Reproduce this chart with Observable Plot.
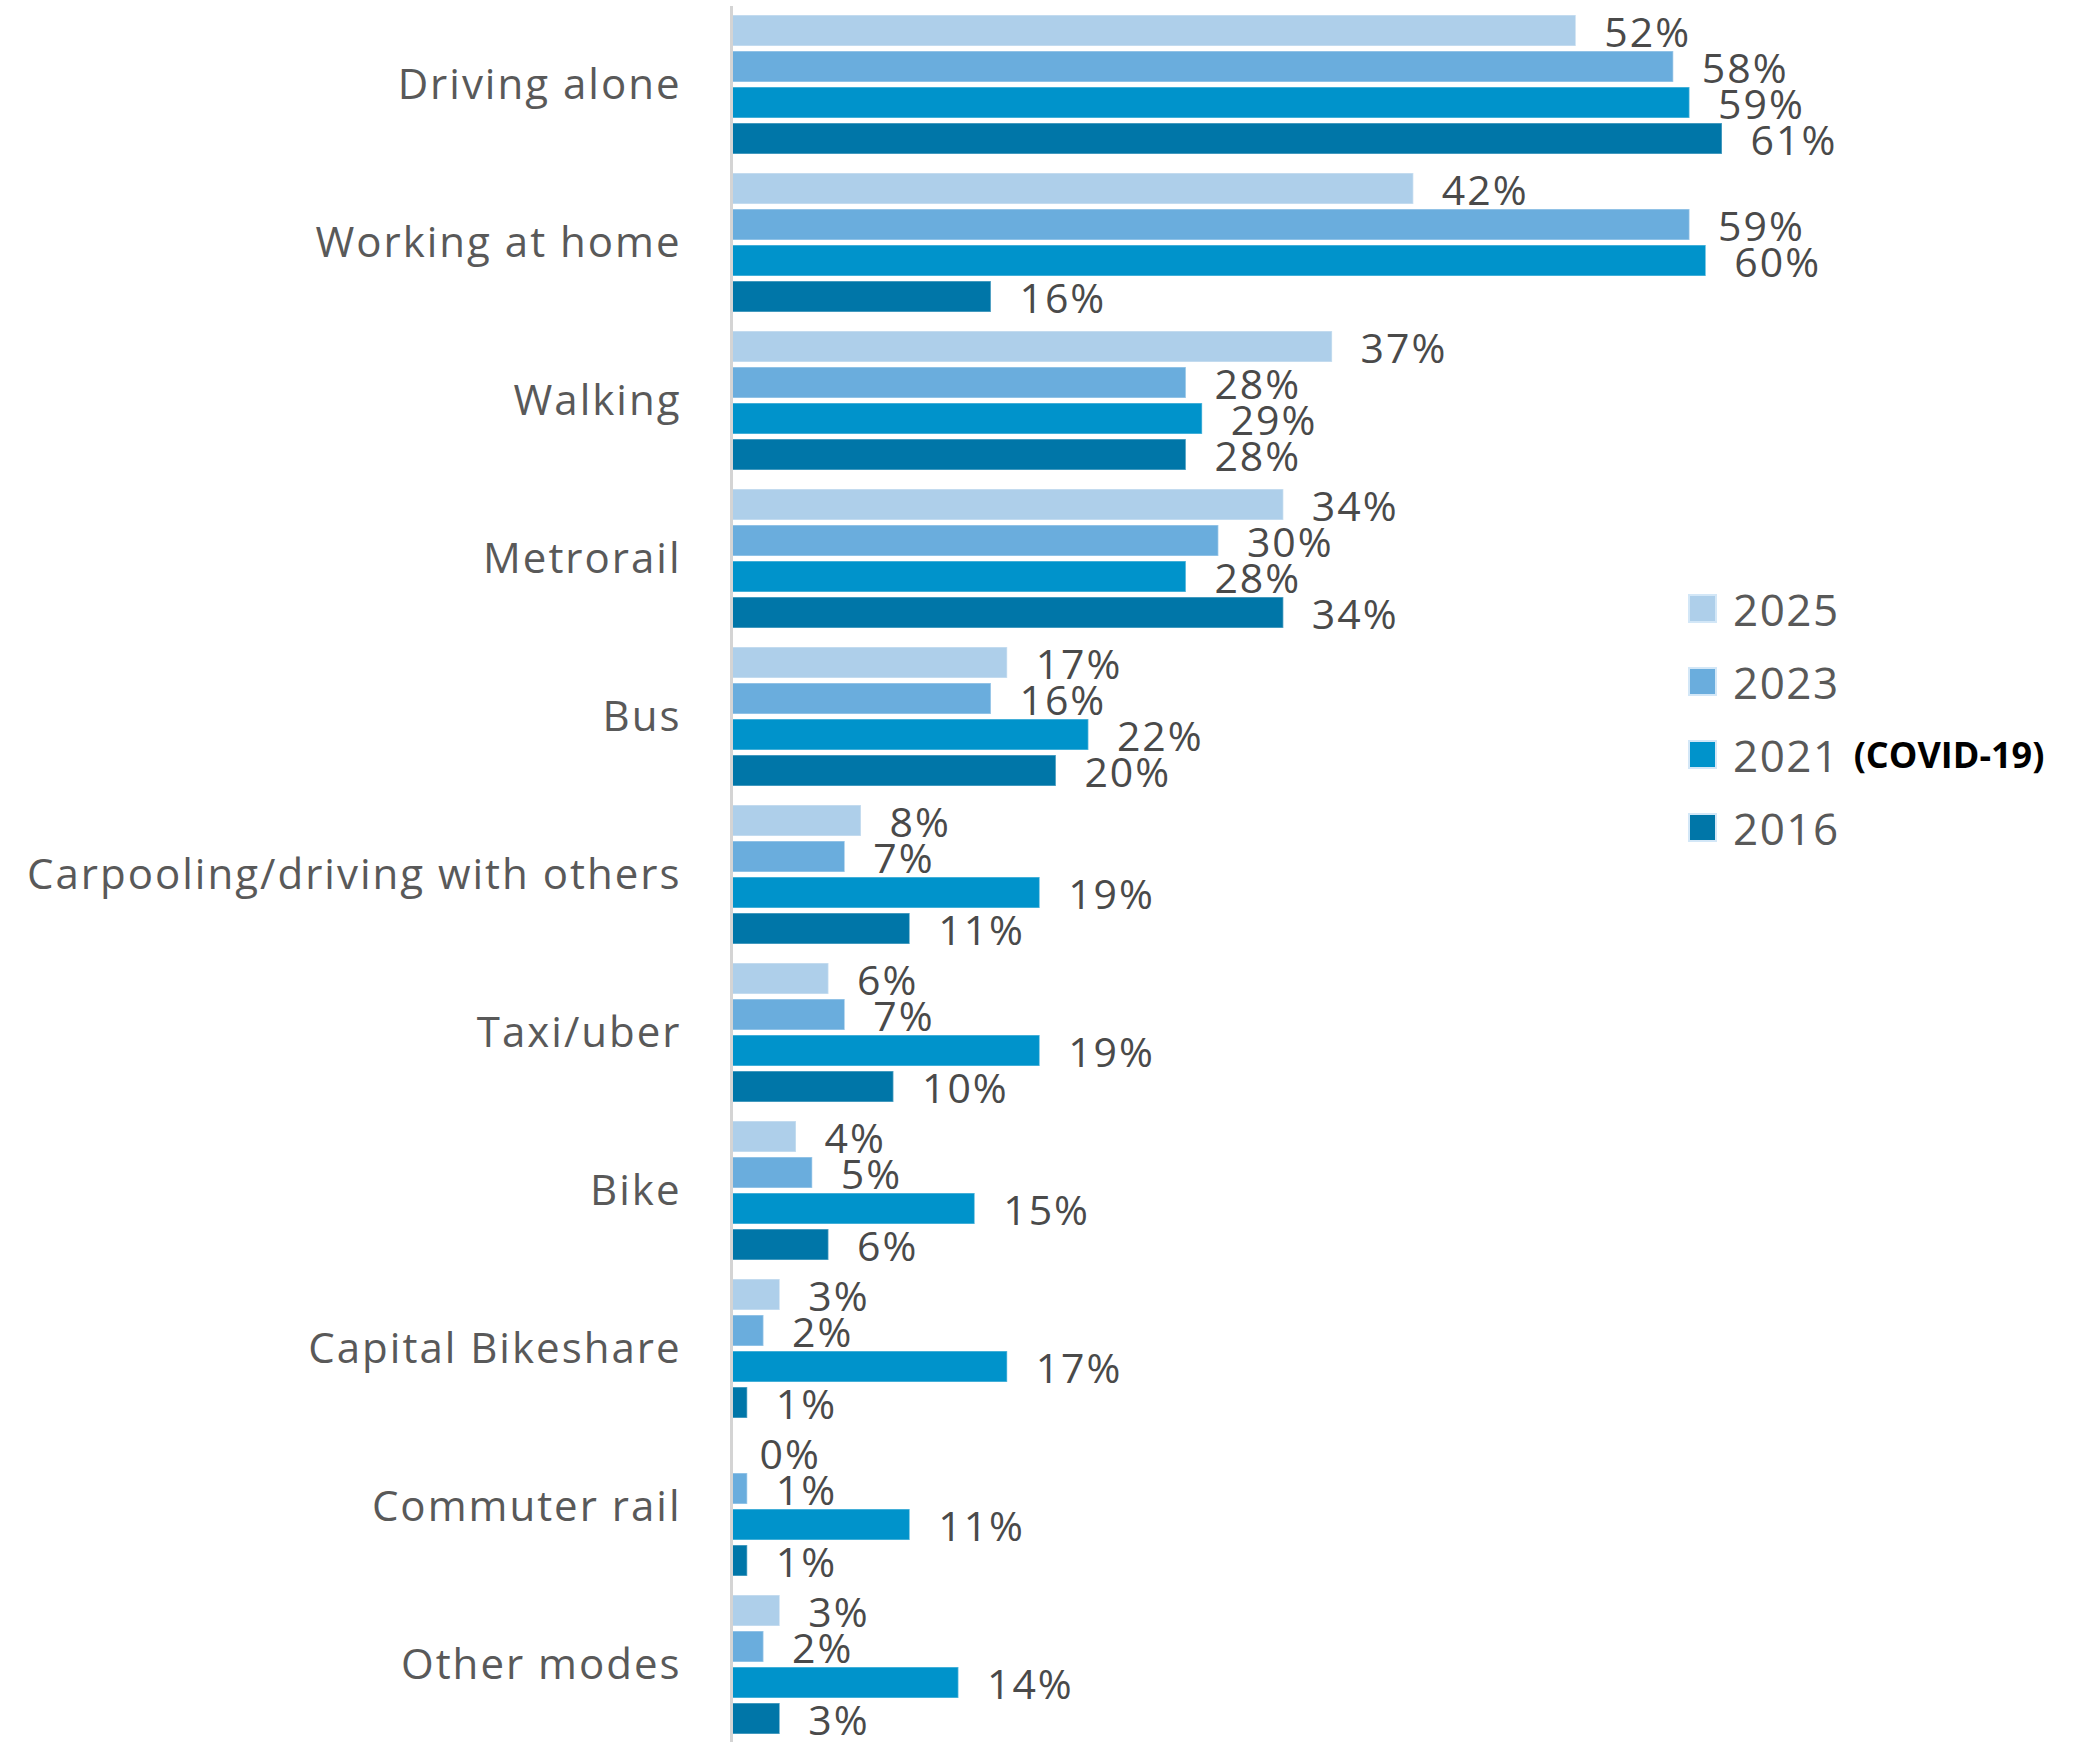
<!DOCTYPE html>
<html>
<head>
<meta charset="utf-8">
<script src="https://cdn.jsdelivr.net/npm/d3@7"></script>
<script src="https://cdn.jsdelivr.net/npm/@observablehq/plot@0.6"></script>
<style>
  html, body { margin: 0; padding: 0; background: #fff; }
  #wrap { position: relative; width: 2074px; height: 1742px; overflow: hidden; }
  #wrap svg text { letter-spacing: 2px; }
  #legend { position: absolute; left: 1690px; top: 572px; font-family: "Open Sans", sans-serif; }
  .li { display: flex; align-items: center; height: 73px; }
  .sw { width: 25px; height: 25px; box-shadow: 0 0 0 2px rgba(200,225,245,0.8); }
  .lt { margin-left: 18px; font-size: 44px; color: #595959; letter-spacing: 1.5px; }
  .covid { margin-left: 14px; font-size: 36px; font-weight: 700; color: #000; }
</style>
</head>
<body>
<div id="wrap"></div>
<script>
const modes = ["Driving alone","Working at home","Walking","Metrorail","Bus","Carpooling/driving with others","Taxi/uber","Bike","Capital Bikeshare","Commuter rail","Other modes"];
const years = ["2025","2023","2021","2016"];
const v2025 = [52,42,37,34,17,8,6,4,3,0,3];
const v2023 = [58,59,28,30,16,7,7,5,2,1,2];
const v2021 = [59,60,29,28,22,19,19,15,17,11,14];
const v2016 = [61,16,28,34,20,11,10,6,1,1,3];
const colors = ["#aecfea","#6aaddd","#0093cb","#0076a8"];

const series = {"2025": v2025, "2023": v2023, "2021": v2021, "2016": v2016};
const data = [];
modes.forEach((m, i) => years.forEach(y => data.push({mode: m, year: y, value: series[y][i]})));

const chart = Plot.plot({
  width: 2074,
  height: 1742,
  marginLeft: 731,
  marginRight: 352,
  marginTop: 3,
  marginBottom: -4,
  style: {fontFamily: "'Open Sans', sans-serif", background: "#fff"},
  x: {domain: [0, 61], axis: null},
  y: {domain: years, axis: null, paddingInner: 0.135, paddingOuter: 0.21},
  fy: {domain: modes, padding: 0, label: null},
  color: {domain: years, range: colors},
  marks: [
    Plot.barX(data, {x: "value", y: "year", fy: "mode", fill: "year", stroke: "#ffffff", strokeOpacity: 0.35, strokeWidth: 1.5}),
    Plot.text(data, {x: "value", y: "year", fy: "mode", text: d => d.value + "%", textAnchor: "start", dx: 28, dy: 3, fontSize: 41, fill: "#4a4a4a"}),
    Plot.ruleX([0], {stroke: "#d4d4d4", strokeWidth: 3}),
    Plot.axisFy({anchor: "left", tickSize: 0, tickPadding: 50, fontSize: 42, fill: "#595959", label: null})
  ]
});
document.getElementById("wrap").appendChild(chart);

const legend = document.createElement("div");
legend.id = "legend";
years.forEach((y, i) => {
  const row = document.createElement("div");
  row.className = "li";
  const sw = document.createElement("div");
  sw.className = "sw";
  sw.style.background = colors[i];
  const t = document.createElement("span");
  t.className = "lt";
  t.textContent = y;
  row.appendChild(sw);
  row.appendChild(t);
  if (y === "2021") {
    const c = document.createElement("span");
    c.className = "covid";
    c.textContent = "(COVID-19)";
    row.appendChild(c);
  }
  legend.appendChild(row);
});
document.getElementById("wrap").appendChild(legend);
</script>
</body>
</html>
